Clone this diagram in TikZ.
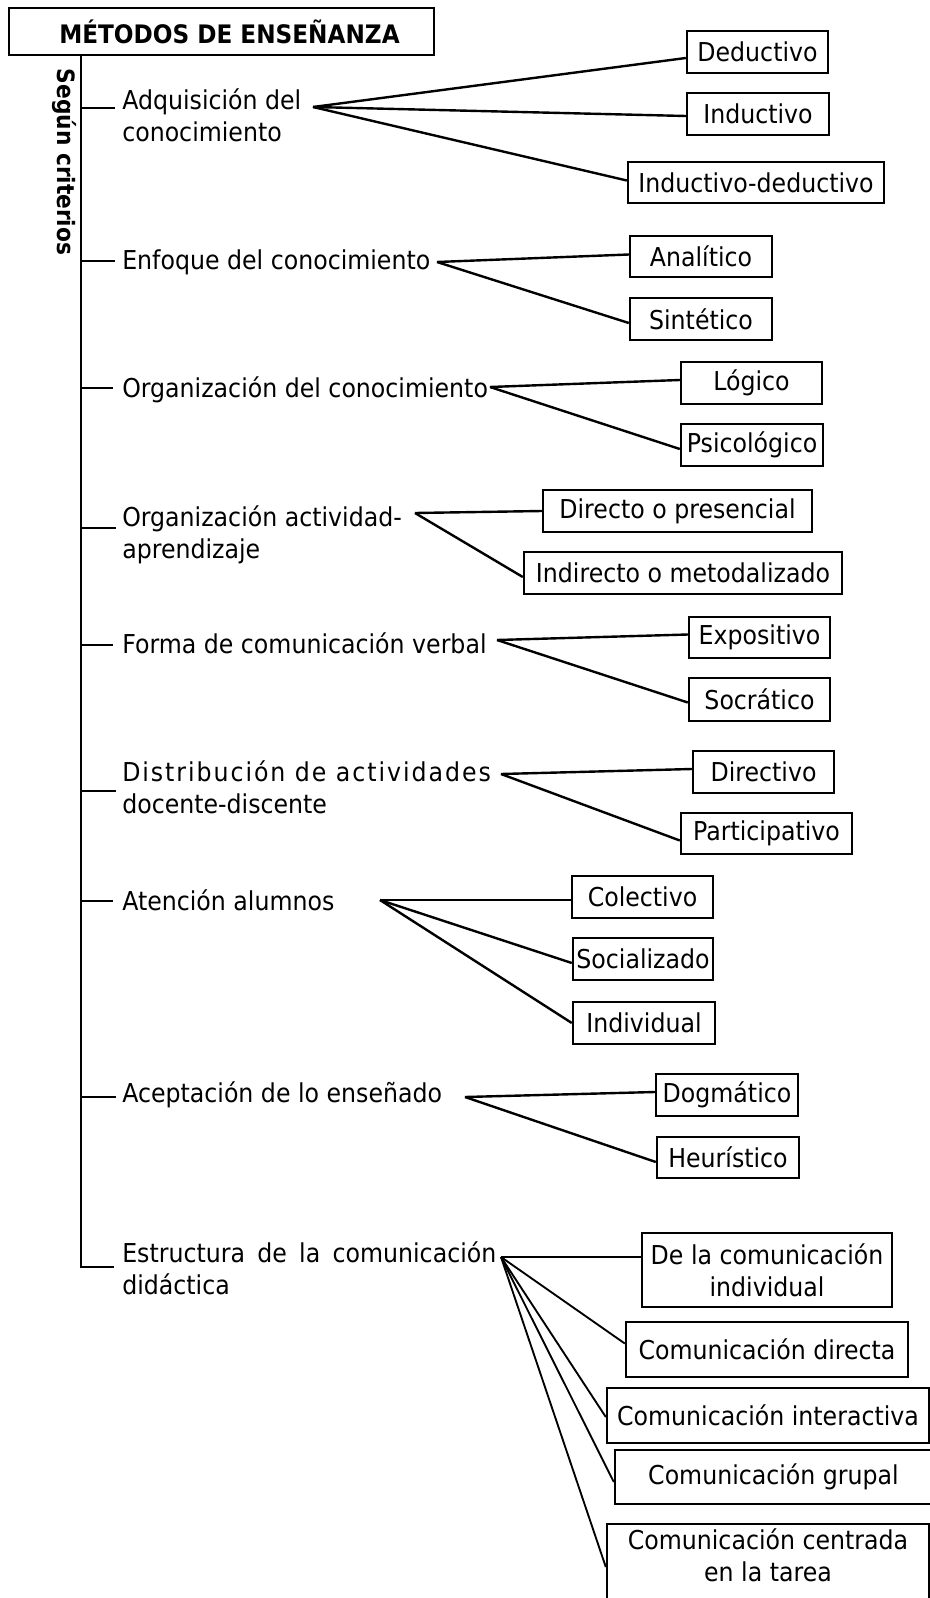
\documentclass[tikz,border=0pt]{standalone}
\usepackage{fontspec}
\setmainfont[FakeStretch=0.91]{DejaVu Sans}
\newfontfamily\spacedfont[FakeStretch=0.91,LetterSpace=7.5]{DejaVu Sans}
\newlength\px \setlength\px{0.75pt}
\tikzset{
  lab/.style={anchor=base west, inner sep=0pt, align=left, font=\fontsize{19.5pt}{24pt}\selectfont},
  box/.style={draw, line width=1.8pt, inner sep=0pt, align=center, font=\fontsize{19.5pt}{24pt}\selectfont},
  conn/.style={line width=1.8pt},
  thinconn/.style={line width=1.4pt},
}
\begin{document}
\begin{tikzpicture}[x=0.75pt,y=-0.75pt]
\useasboundingbox (0,0) rectangle (930,1598);
% title
\node[draw, line width=1.8pt, minimum width=425\px, minimum height=47\px, inner sep=0pt,
  font=\bfseries\fontsize{19.1pt}{23pt}\selectfont] (title) at (221.5,31.5) {\hspace*{16\px}MÉTODOS DE ENSEÑANZA};
\node[rotate=-90, inner sep=0pt, font=\bfseries\fontsize{17.9pt}{20pt}\selectfont] (crit) at (64,162) {Según criterios};
% spine
\coordinate (s0) at (81,55);
\coordinate (t1) at (115,108);
\coordinate (t2) at (115,261);
\coordinate (t3) at (113,388);
\coordinate (t4) at (116,528);
\coordinate (t5) at (113,645);
\coordinate (t6) at (116,791);
\coordinate (t7) at (113,901);
\coordinate (t8) at (116,1097);
\coordinate (t9) at (114,1267);
\draw[conn] (s0) -- (s0 |- t9) -- (t9);
\foreach \t in {t1,t2,t3,t4,t5,t6,t7,t8} \draw[conn] (s0 |- \t) -- (\t);
% labels (multi-line: base = last line)
\node[lab] (l1) at (122,142) {Adquisición del\\conocimiento};
\node[lab] (l2) at (122,269) {Enfoque del conocimiento};
\node[lab] (l3) at (122,397) {Organización del conocimiento};
\node[lab] (l4) at (122,558) {Organización actividad-\\aprendizaje};
\node[lab] (l5) at (122,653) {Forma de comunicación verbal};
\node[lab] (l6) at (122,813) {{\spacedfont Distribución de actividades}\\docente-discente};
\node[lab] (l7) at (122,910) {Atención alumnos};
\node[lab] (l8) at (122,1102) {Aceptación de lo enseñado};
\node[lab] (l9) at (122,1294) {\makebox[374\px][s]{Estructura de la comunicación}\\didáctica};
% apexes
\coordinate (a1) at (313,107);
\coordinate (a2) at (437,262);
\coordinate (a3) at (490,387);
\coordinate (a4) at (415,513);
\coordinate (a5) at (497,640);
\coordinate (a6) at (501,774);
\coordinate (a7) at (380,900);
\coordinate (a8) at (465,1097);
\coordinate (a9) at (501,1257);
% boxes
\node[box, minimum width=141\px, minimum height=42\px] (ded) at (757.5,52) {Deductivo};
\node[box, minimum width=142\px, minimum height=42\px] (ind) at (758,114) {Inductivo};
\node[box, minimum width=256\px, minimum height=41\px] (indded) at (756,182.5) {Inductivo-deductivo};
\node[box, minimum width=142\px, minimum height=41\px] (ana) at (701,256.5) {Analítico};
\node[box, minimum width=142\px, minimum height=42\px] (sin) at (701,319) {Sintético};
\node[box, minimum width=141\px, minimum height=42\px] (log) at (751.5,383) {Lógico};
\node[box, minimum width=142\px, minimum height=42\px] (psi) at (752,445) {Psicológico};
\node[box, minimum width=269\px, minimum height=42\px] (dir) at (677.5,511) {Directo o presencial};
\node[box, minimum width=318\px, minimum height=42\px] (indir) at (683,573) {Indirecto o metodalizado};
\node[box, minimum width=141\px, minimum height=41\px] (exp) at (759.5,637.5) {Expositivo};
\node[box, minimum width=141\px, minimum height=43\px] (soc) at (759.5,699.5) {Socrático};
\node[box, minimum width=141\px, minimum height=42\px] (dirv) at (763.5,772) {Directivo};
\node[box, minimum width=171\px, minimum height=41\px] (par) at (766.5,833.5) {Participativo};
\node[box, minimum width=141\px, minimum height=42\px] (col) at (642.5,897) {Colectivo};
\node[box, minimum width=140\px, minimum height=42\px] (socz) at (643,959) {Socializado};
\node[box, minimum width=142\px, minimum height=42\px] (indv) at (644,1023) {Individual};
\node[box, minimum width=142\px, minimum height=42\px] (dog) at (727,1095) {Dogmático};
\node[box, minimum width=142\px, minimum height=41\px] (heu) at (728,1157.5) {Heurístico};
\node[box, minimum width=250\px, minimum height=74\px] (dlc) at (767,1270) {De la comunicación\\individual};
\node[box, minimum width=282\px, minimum height=55\px] (cdir) at (767,1349.5) {Comunicación directa};
\node[box, minimum width=322\px, minimum height=55\px] (cint) at (768,1415.5) {Comunicación interactiva};
\node[box, minimum width=317\px, minimum height=54\px] (cgru) at (773.5,1477) {Comunicación grupal};
\node[box, minimum width=322\px, minimum height=100\px] (ccen) at (768,1574) {};
\node[inner sep=0pt, align=center, font=\fontsize{19.5pt}{24pt}\selectfont] (ccentxt) at (768,1555) {Comunicación centrada\\en la tarea};
% connectors
\draw[conn] (a1) -- ([yshift=-6\px]ded.west);
\draw[conn] (a1) -- ([yshift=-2\px]ind.west);
\draw[conn] (a1) -- ([yshift=2\px]indded.west);
\draw[conn] (a2) -- ([yshift=2\px]ana.west);
\draw[conn] (a2) -- ([yshift=-4\px]sin.west);
\draw[conn] (a3) -- ([yshift=3\px]log.west);
\draw[conn] (a3) -- ([yshift=-4\px]psi.west);
\draw[conn] (a4) -- (dir.west);
\draw[conn] (a4) -- ([yshift=-4\px]indir.west);
\draw[conn] (a5) -- ([yshift=3\px]exp.west);
\draw[conn] (a5) -- ([yshift=-3\px]soc.west);
\draw[conn] (a6) -- ([yshift=3\px]dirv.west);
\draw[conn] (a6) -- ([yshift=-7\px]par.west);
\draw[conn] (a7) -- ([yshift=-3\px]col.west);
\draw[conn] (a7) -- ([yshift=-4\px]socz.west);
\draw[conn] (a7) -- (indv.west);
\draw[conn] (a8) -- ([yshift=3\px]dog.west);
\draw[conn] (a8) -- ([yshift=-4.5\px]heu.west);
\draw[thinconn] (a9) -- ([yshift=13\px]dlc.west);
\draw[thinconn] (a9) -- ([yshift=6\px]cdir.west);
\draw[thinconn] (a9) -- ([yshift=-1.5\px]cint.west);
\draw[thinconn] (a9) -- ([yshift=-5\px]cgru.west);
\draw[thinconn] (a9) -- ([yshift=7\px]ccen.west);
\end{tikzpicture}
\end{document}
